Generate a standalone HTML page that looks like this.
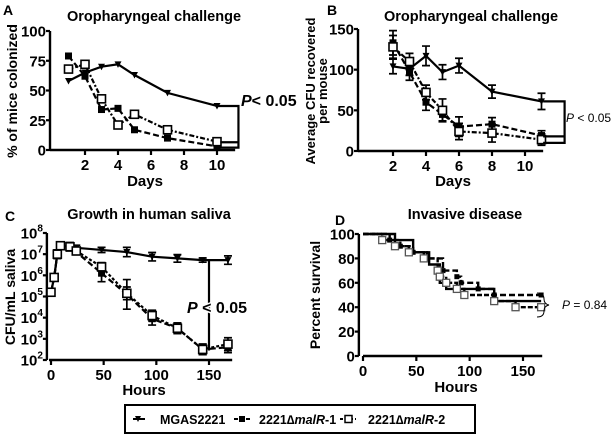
<!DOCTYPE html>
<html><head><meta charset="utf-8"><style>
body{margin:0;background:#fff}
svg{display:block;font-family:"Liberation Sans",Arial,sans-serif}
.b{font-weight:bold}
</style></head><body>
<svg id="s" width="612" height="438" viewBox="0 0 612 438">
<g>
<text x="3" y="15" class="b" font-size="14">A</text>
<text x="154" y="21" class="b" font-size="14.5" text-anchor="middle">Oropharyngeal challenge</text>
<text transform="translate(17,91) rotate(-90)" class="b" font-size="14" text-anchor="middle">% of mice colonized</text>
<text x="145" y="186" class="b" font-size="15" text-anchor="middle">Days</text>
</g>
<g>
<text x="327" y="15" class="b" font-size="14">B</text>
<text x="471" y="21" class="b" font-size="14.5" text-anchor="middle">Oropharyngeal challenge</text>
<text transform="translate(315,91) rotate(-90)" class="b" font-size="13" text-anchor="middle">Average CFU recovered</text>
<text transform="translate(327,91) rotate(-90)" class="b" font-size="13" text-anchor="middle">per mouse</text>
<text x="453" y="186" class="b" font-size="15" text-anchor="middle">Days</text>
</g>
<g>
<text x="5" y="221" class="b" font-size="14">C</text>
<text x="149" y="219" class="b" font-size="14.5" text-anchor="middle">Growth in human saliva</text>
<text transform="translate(15,297) rotate(-90)" class="b" font-size="14" text-anchor="middle">CFU/mL saliva</text>
<text x="144" y="395" class="b" font-size="15" text-anchor="middle">Hours</text>
</g>
<g>
<text x="335" y="225" class="b" font-size="14">D</text>
<text x="465" y="219" class="b" font-size="14.5" text-anchor="middle">Invasive disease</text>
<text transform="translate(320,295) rotate(-90)" class="b" font-size="14" text-anchor="middle">Percent survival</text>
<text x="456" y="392" class="b" font-size="15" text-anchor="middle">Hours</text>
</g>
<g>
<rect x="125" y="405" width="350" height="28" fill="#fff" stroke="#000" stroke-width="2"/>
<g>
<line x1="133" y1="419" x2="145" y2="419" stroke="#000" stroke-width="2"/><path d="M135,416 L141,416 L138,422Z" fill="#000"/>
<text x="160" y="424" class="b" font-size="12.5">MGAS2221</text></g>
<g>
<line x1="234" y1="419" x2="250" y2="419" stroke="#000" stroke-width="2" stroke-dasharray="4 2"/><rect x="239" y="416" width="6" height="6" fill="#000"/>
<text x="259" y="424" class="b" font-size="12.5">2221∆<tspan font-style="italic">malR</tspan>-1</text></g>
<g>
<line x1="340" y1="419" x2="356" y2="419" stroke="#000" stroke-width="2" stroke-dasharray="3 2"/><rect x="345" y="415.5" width="7" height="7" fill="#fff" stroke="#000" stroke-width="1.5"/>
<text x="368" y="424" class="b" font-size="12.5">2221∆<tspan font-style="italic">malR</tspan>-2</text></g>
</g>
</svg>
<script>
// Panel A data
const aDays=[1,2,3,4,5,7,10];
const aMgas=[58,65,70,72,63,48,37];
const aMalR1=[79,62,34,35,17,10,3];
const aMalR2=[68,72,43,21,30,17,7];
const aXTicks=[2,4,6,8,10];
const aYTicks=[0,25,50,75,100];
// Panel B data
const bDays=[2,3,4,5,6,8,11];
const bMgas=[104,101,117,97,105,73,61];
const bMgasErr=[9,8,12,9,9,8,10];
const bMalR1=[133,97,60,45,30,33,19];
const bMalR1Err=[15,10,10,8,12,8,6];
const bMalR2=[128,110,72,50,24,22,14];
const bMalR2Err=[14,10,9,14,10,11,7];
const bXTicks=[2,4,6,8,10];
const bYTicks=[0,50,100,150];
// Panel C data (log10 CFU/mL)
const cHours=[0,3,6,9,18,24,48,72,96,120,144,168];
const cMgas=[5.2,5.9,7.0,7.4,7.35,7.3,7.2,7.1,6.88,6.8,6.72,6.72];
const cMgasErr=[0.1,0.1,0.2,0.15,0.2,0.12,0.12,0.22,0.2,0.18,0.1,0.2];
const cMalR1=[5.2,5.9,7.0,7.4,7.38,7.1,6.1,5.1,3.95,3.5,2.5,2.6];
const cMalR1Err=[0.1,0.1,0.2,0.15,0.15,0.1,0.4,0.7,0.3,0.25,0.25,0.25];
const cMalR2=[5.2,5.9,7.0,7.4,7.35,7.15,6.4,5.15,4.1,3.5,2.5,2.75];
const cMalR2Err=[0.1,0.1,0.2,0.15,0.15,0.1,0.2,0.3,0.25,0.25,0.25,0.3];
const cXTicks=[0,50,100,150];
const cYTicks=[2,3,4,5,6,7,8];
// Panel D data (Kaplan-Meier step points)
const dMgasT=[0,30,47,62,72,78,123,167];
const dMgasV=[100,95,85,75,60,55,45,45];
const dMalR1T=[0,25,35,47,60,75,88,92,108,123,167];
const dMalR1V=[100,95,90,85,80,70,65,60,55,50,50];
const dMalR2T=[0,18,30,43,57,70,72,78,88,95,123,143,167];
const dMalR2V=[100,95,90,85,80,70,65,60,55,50,45,40,40];
const dXTicks=[0,50,100,150];
const dYTicks=[0,20,40,60,80,100];

const S=document.getElementById('s');
const NS='http://www.w3.org/2000/svg';
function mk(tag,attrs,parent){const e=document.createElementNS(NS,tag);for(const k in attrs)e.setAttribute(k,attrs[k]);(parent||S).appendChild(e);return e;}
function lin(d0,d1,r0,r1){return v=>r0+(v-d0)*(r1-r0)/(d1-d0);}

function axes(g,sx,sy,x0,x1,y0,y1,xt,yt,xlab,ylab,xStart){
  const ax=mk('line',{x1:xStart,y1:sy(y0),x2:sx(x1),y2:sy(y0),stroke:'#000','stroke-width':2.4},g);
  
  
  const ay=mk('line',{x1:sx(x0)-2,y1:sy(y0),x2:sx(x0)-2,y2:sy(y1),stroke:'#000','stroke-width':2.4},g);
  
  
  xt.forEach(v=>{mk('line',{x1:sx(v),y1:sy(y0),x2:sx(v),y2:sy(y0)+5,stroke:'#000','stroke-width':2.2},g);
    const t=mk('text',{x:sx(v),y:sy(y0)+20,'text-anchor':'middle','font-size':15,'font-weight':'bold'},g);t.textContent=xlab(v);
    
    });
  yt.forEach(v=>{mk('line',{x1:sx(x0)-2,y1:sy(v),x2:sx(x0)-6,y2:sy(v),stroke:'#000','stroke-width':2.2},g);
    const t=mk('text',{x:sx(x0)-6,y:sy(v)+5.5,'text-anchor':'end','font-size':15,'font-weight':'bold'},g);
    ylab(t,v);
    
    });
}
function marker(g,type,x,y){
  if(type==='tri') mk('path',{d:`M${x-3.5},${y-3} L${x+3.5},${y-3} L${x},${y+3.5}Z`,fill:'#000'},g);
  else if(type==='fsq') mk('rect',{x:x-3.5,y:y-3.5,width:7,height:7,fill:'#000'},g);
  else mk('rect',{x:x-4,y:y-4,width:8,height:8,fill:'#fff',stroke:'#000','stroke-width':1.6},g);
}
function series(g,name,sx,sy,xs,ys,errs,type,dash){
  const sg=mk('g',{},g);
  
  
  mk('polyline',{points:xs.map((x,i)=>sx(x)+','+sy(ys[i])).join(' '),fill:'none',stroke:'#000','stroke-width':2.2,'stroke-dasharray':dash},sg);
  if(errs) xs.forEach((x,i)=>{const X=sx(x),a=sy(ys[i]-errs[i]),b=sy(ys[i]+errs[i]);
    mk('path',{d:`M${X},${a}V${b}M${X-4},${a}H${X+4}M${X-4},${b}H${X+4}`,stroke:'#000','stroke-width':1.7,fill:'none'},sg);});
  xs.forEach((x,i)=>marker(sg,type,sx(x),sy(ys[i])));
}
function numLab(t,v){t.textContent=v;}
function powLab(t,v){t.textContent='10';const s=mk('tspan',{dy:-7,'font-size':10},t);s.textContent=v;}

// Panel A
let g=mk('g',{});
let sx=lin(0,11,52,233.5),sy=lin(0,100,150,31);
axes(g,sx,sy,0,11.1,0,100,aXTicks,aYTicks,v=>v,numLab,50);
series(g,'series-a-mgas2221',sx,sy,aDays,aMgas,null,'tri','');
series(g,'series-a-malr-1',sx,sy,aDays,aMalR1,null,'fsq','6 3');
series(g,'series-a-malr-2',sx,sy,aDays,aMalR2,null,'osq','5 2 2 2');
let br=mk('path',{d:`M${sx(10)},${sy(37)}H${sx(11.3)}V${sy(2)}H${sx(10.2)}M${sx(10.2)},${sy(6.5)}H${sx(11.3)}`,stroke:'#000','stroke-width':2.2,fill:'none'},g);


let pt=mk('text',{x:241,y:106,'font-size':16,'font-weight':'bold'},g);pt.innerHTML='<tspan font-style="italic">P</tspan>&lt; 0.05';



// Panel B
g=mk('g',{});
sx=lin(0,11,360,541.5);sy=lin(0,150,151,29);
axes(g,sx,sy,0,11.1,0,150,bXTicks,bYTicks,v=>v,numLab,358);
series(g,'series-b-mgas2221',sx,sy,bDays,bMgas,bMgasErr,'tri','');
series(g,'series-b-malr-1',sx,sy,bDays,bMalR1,bMalR1Err,'fsq','6 3');
series(g,'series-b-malr-2',sx,sy,bDays,bMalR2,bMalR2Err,'osq','5 2 2 2');
br=mk('path',{d:`M${sx(11.1)},${sy(61)}H${sx(12.4)}V${sy(10)}H${sx(11.1)}M${sx(11.1)},${sy(18)}H${sx(12.4)}`,stroke:'#000','stroke-width':2.2,fill:'none'},g);


pt=mk('text',{x:566,y:122,'font-size':12},g);pt.innerHTML='<tspan font-style="italic">P</tspan> &lt; 0.05';



// Panel C
g=mk('g',{});
sx=lin(0,150,51,209);sy=lin(2,8,360,233);
axes(g,sx,sy,-2,172,2,8,cXTicks,cYTicks,v=>v,powLab,49);
series(g,'series-c-mgas2221',sx,sy,cHours,cMgas,cMgasErr,'tri','');
series(g,'series-c-malr-1',sx,sy,cHours,cMalR1,cMalR1Err,'fsq','6 3');
series(g,'series-c-malr-2',sx,sy,cHours,cMalR2,cMalR2Err,'osq','3 2');
br=mk('line',{x1:sx(150),y1:sy(6.72),x2:sx(150),y2:sy(2.45),stroke:'#000','stroke-width':2.2},g);


pt=mk('text',{x:187,y:313,'font-size':16,'font-weight':'bold'},g);pt.innerHTML='<tspan font-style="italic">P</tspan> &lt; 0.05';


pt.setAttribute('paint-order','stroke');pt.setAttribute('stroke','#fff');pt.setAttribute('stroke-width','3');

// Panel D
g=mk('g',{});
sx=lin(0,150,363,523);sy=lin(0,100,356,234);
axes(g,sx,sy,-2,168,0,100,dXTicks,dYTicks,v=>v,numLab,363);
function steps(name,T,V,type,dash){
  const sg=mk('g',{},g);
  
  
  let d=`M${sx(T[0])},${sy(V[0])}`;
  for(let i=1;i<T.length;i++){d+=`H${sx(T[i])}V${sy(V[i])}`;}
  mk('path',{d:d,fill:'none',stroke:'#000','stroke-width':2.4,'stroke-dasharray':dash},sg);
  for(let i=1;i<T.length;i++){
    if(type==='osq') mk('rect',{x:sx(T[i])-3.5,y:sy(V[i])-3.5,width:7,height:7,fill:'#fff',stroke:'#555','stroke-width':1.3},sg);
    else if(type==='fsq') mk('rect',{x:sx(T[i])-2.5,y:sy(V[i])-2.5,width:5,height:5,fill:'#000'},sg);
  }
}
steps('series-d-mgas2221',dMgasT,dMgasV,'tri','');
steps('series-d-malr-1',dMalR1T,dMalR1V,'fsq','6 3');
steps('series-d-malr-2',dMalR2T,dMalR2V,'osq','5 2');
br=mk('path',{d:`M537,293 Q544,293 544,299 Q544,304 549,305 Q544,306 544,311 Q544,317 537,317`,fill:'none',stroke:'#000','stroke-width':1},g);


pt=mk('text',{x:562,y:309,'font-size':12},g);pt.innerHTML='<tspan font-style="italic">P</tspan> = 0.84';


</script>
</body></html>
